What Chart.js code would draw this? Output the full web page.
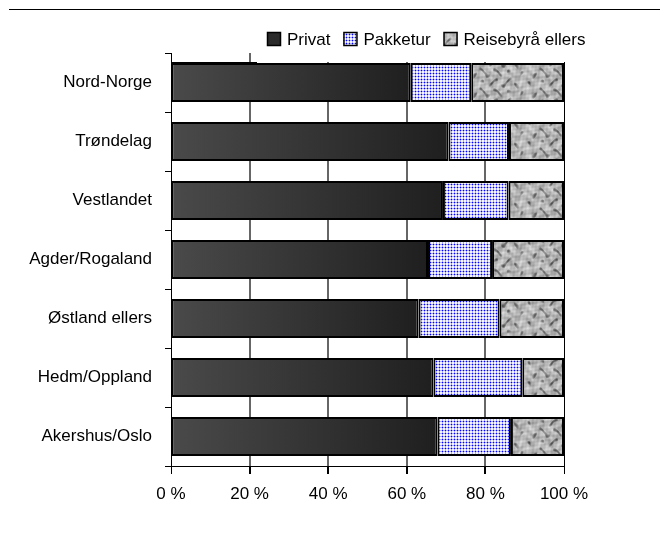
<!DOCTYPE html>
<html>
<head>
<meta charset="utf-8">
<script src="https://cdn.jsdelivr.net/npm/chart.js@4"></script>
<style>
  body { margin: 0; background: #fff; }
  #wrap { position: relative; width: 668px; height: 533px; }
  #topline { position: absolute; left: 9px; top: 9px; width: 651px; border-top: 1.5px solid #000; }
</style>
</head>
<body>
<div id="wrap">
  <div id="topline"></div>
  <canvas id="reiseChart" width="668" height="533"></canvas>
</div>
<script>
const regions = ["Nord-Norge", "Trøndelag", "Vestlandet", "Agder/Rogaland", "Østland ellers", "Hedm/Oppland", "Akershus/Oslo"];
const privat = [61.0, 70.6, 69.2, 65.4, 63.0, 66.8, 67.8];
const pakketur = [15.4, 15.4, 16.7, 16.3, 20.6, 22.6, 18.7];
const reisebyraa = [23.6, 14.0, 14.1, 18.3, 16.4, 10.6, 13.5];
const xTicks = [0, 20, 40, 60, 80, 100];

const FONT = { family: "'Liberation Sans', Arial, sans-serif", size: 17 };

// blue dotted fill for Pakketur
function dotPattern() {
  const c = document.createElement("canvas");
  c.width = 3; c.height = 3;
  const g = c.getContext("2d");
  g.fillStyle = "#f4f4ff";
  g.fillRect(0, 0, 3, 3);
  g.fillStyle = "#a8a8ff";
  g.fillRect(0, 1, 3, 1);
  g.fillRect(1, 0, 1, 3);
  g.fillStyle = "#0000ff";
  g.fillRect(1, 1, 1, 1);
  return g.createPattern(c, "repeat");
}

// grey stone-like texture for Reisebyrå ellers
function stonePattern() {
  const n = 60;
  const c = document.createElement("canvas");
  c.width = n; c.height = n;
  const g = c.getContext("2d");
  const img = g.createImageData(n, n);
  const k = (2 * Math.PI) / n;
  for (let y = 0; y < n; y++) {
    for (let x = 0; x < n; x++) {
      const n1 = Math.sin(x * k * 3 + 1.7 * Math.sin(y * k * 2)) * Math.cos(y * k * 4 + 1.3 * Math.sin(x * k * 3));
      const n2 = (Math.sin(x * k * 5 + 2 * Math.sin(y * k * 3)) + Math.sin(y * k * 6 + 2 * Math.cos(x * k * 4))) / 2;
      const n3 = Math.sin((x + y) * k * 9) * Math.sin((x - y) * k * 7);
      let v = 184 + 26 * n1 + 12 * n3 - 130 * Math.max(0, n2 - 0.35);
      v = Math.max(60, Math.min(235, v));
      const i = (y * n + x) * 4;
      img.data[i] = img.data[i + 1] = img.data[i + 2] = v;
      img.data[i + 3] = 255;
    }
  }
  g.putImageData(img, 0, 0);
  return g.createPattern(c, "repeat");
}

const dots = dotPattern();
const stone = stonePattern();

function privatFill(context) {
  const chart = context.chart;
  if (!chart.chartArea) return "#333";
  const x0 = chart.scales.x.getPixelForValue(0);
  const x1 = chart.scales.x.getPixelForValue(context.raw || 1);
  const grad = chart.ctx.createLinearGradient(x0, 0, x1, 0);
  grad.addColorStop(0, "#4a4a4a");
  grad.addColorStop(1, "#1f1f1f");
  return grad;
}

// legend drawn by hand so it sits where the original has it
const legendPlugin = {
  id: "topLegend",
  afterDraw(chart) {
    const ctx = chart.ctx;
    const area = chart.chartArea;
    ctx.save();
    // white legend backdrop hides the top of the plot frame
    ctx.fillStyle = "#fff";
    ctx.fillRect(257, area.top - 2, chart.width - 257, 63 - area.top + 1);
    ctx.strokeStyle = "#000";
    ctx.lineWidth = 1;
    ctx.beginPath();
    ctx.moveTo(area.left, 62.5);
    ctx.lineTo(257, 62.5);
    ctx.stroke();

    const fills = ["#2a2a2a", dots, stone];
    ctx.font = FONT.size + "px " + FONT.family;
    ctx.textBaseline = "middle";
    let x = 267;
    const y = 32;
    chart.data.datasets.forEach((ds, i) => {
      ctx.fillStyle = fills[i];
      ctx.fillRect(x, y, 14, 14);
      ctx.strokeStyle = "#000";
      ctx.lineWidth = 1.5;
      ctx.strokeRect(x + 0.5, y + 0.5, 13, 13);
      ctx.fillStyle = "#000";
      ctx.fillText(ds.label, x + 20, y + 8);
      x += 20 + ctx.measureText(ds.label).width + 13;
    });
    ctx.restore();
  }
};

new Chart(document.getElementById("reiseChart"), {
  type: "bar",
  data: {
    labels: regions,
    datasets: [
      { label: "Privat", data: privat, backgroundColor: privatFill },
      { label: "Pakketur", data: pakketur, backgroundColor: dots },
      { label: "Reisebyrå ellers", data: reisebyraa, backgroundColor: stone },
    ],
  },
  plugins: [legendPlugin],
  options: {
    responsive: false,
    animation: false,
    indexAxis: "y",
    layout: { padding: { left: 0, top: 53, right: 104, bottom: 0 } },
    datasets: {
      bar: {
        borderColor: "#000",
        borderWidth: 2,
        borderSkipped: false,
        categoryPercentage: 1,
        barPercentage: 0.66,
      },
    },
    plugins: {
      legend: { display: false },
      tooltip: { enabled: false },
    },
    scales: {
      x: {
        stacked: true,
        min: 0,
        max: 100,
        afterBuildTicks: (scale) => {
          scale.ticks = xTicks.map((v) => ({ value: v }));
        },
        afterFit: (scale) => {
          scale.height = 67;
        },
        ticks: {
          color: "#000",
          font: FONT,
          padding: 10,
          maxRotation: 0,
          callback: (v) => v + " %",
        },
        grid: {
          color: (c) => (c.tick && (c.tick.value === 100 || c.tick.value === 0) ? "#000" : "#666"),
          lineWidth: (c) => (c.tick && (c.tick.value === 100 || c.tick.value === 0) ? 1 : 2),
          tickColor: "#000",
          tickLength: 8,
        },
        border: { color: "#000", width: 1 },
      },
      y: {
        stacked: true,
        afterFit: (scale) => {
          scale.width = 171;
        },
        ticks: {
          color: "#000",
          font: FONT,
          padding: 13,
        },
        grid: {
          drawOnChartArea: false,
          tickColor: "#000",
          tickLength: 6,
        },
        border: { color: "#000", width: 1 },
      },
    },
  },
});
</script>
</body>
</html>
